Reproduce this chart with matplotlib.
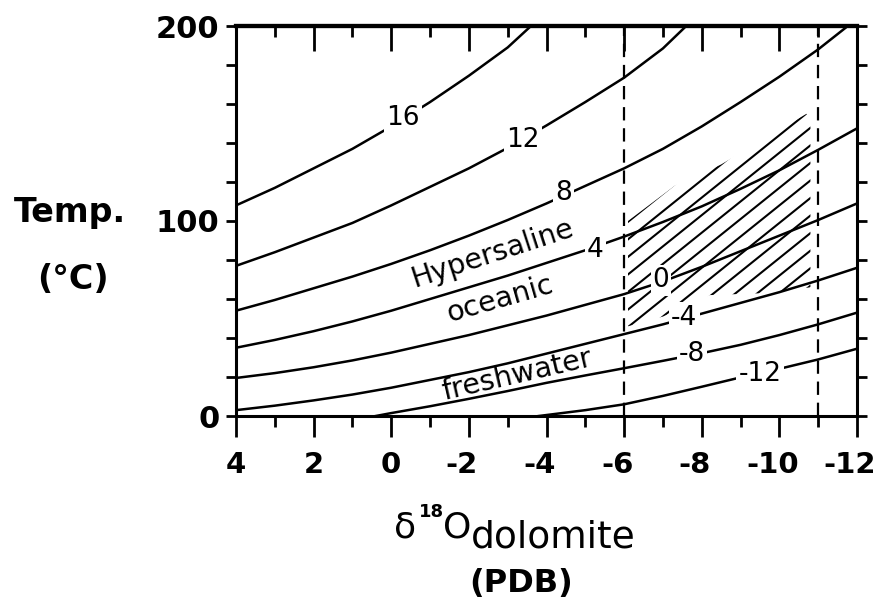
#! /usr/bin/python3
# Temperature vs d18O of dolomite for waters of different d18O (SMOW)
import numpy as np
import matplotlib
matplotlib.use("Agg")
import matplotlib.pyplot as plt
from matplotlib.patches import Polygon
from matplotlib.ticker import FixedLocator, MultipleLocator, NullFormatter
from matplotlib.transforms import ScaledTranslation

# curves: x = d18O dolomite (PDB), t = temperature (C)
c16_x = [4, 3, 2, 1, 0, -1, -2, -3, -3.6]
c16_t = [108, 117, 127, 137, 148.5, 161, 174.5, 189, 200]
c12_x = [4, 3, 2, 1, 0, -1, -2, -3, -4, -5, -6, -7, -7.6]
c12_t = [77, 84, 91.5, 99, 108, 117.5, 127, 137.5, 149, 161, 173.5, 188.5, 200]
c8_x = [4, 3, 2, 1, 0, -1, -2, -3, -4, -5, -6, -7, -8, -9, -10, -11, -11.7]
c8_t = [54, 59.5, 65.5, 71.5, 78, 85, 92.5, 100.5, 109, 118, 127, 137, 148.5,
        161, 174, 188, 199]
c4_x = [4, 3, 2, 1, 0, -1, -2, -3, -4, -5, -6, -7, -8, -9, -10, -11, -12]
c4_t = [35, 39, 43.5, 48.5, 54, 60, 66, 72, 78.5, 85, 92, 99.5, 107.5, 116.5,
        126, 136.5, 147.5]
c0_x = [4, 3, 2, 1, 0, -1, -2, -3, -4, -5, -6, -7, -8, -9, -10, -11, -12]
c0_t = [19.5, 22, 25, 28.5, 32.5, 37, 41.5, 46.5, 51.5, 57, 62.5, 69, 76.5,
        84.5, 92.5, 100.5, 109]
cm4_x = [4, 3, 2, 1, 0, -1, -2, -3, -4, -5, -6, -7, -8, -9, -10, -11, -12]
cm4_t = [3, 5.3, 8, 11, 14.5, 18.5, 22.5, 27, 32, 37, 42, 47, 52.5, 58, 63.5,
         69.5, 76]
cm8_x = [0.4, 0, -1, -2, -3, -4, -5, -6, -7, -8, -9, -10, -11, -12]
cm8_t = [0, 1.5, 5, 8.8, 12.8, 17, 20.8, 24.5, 28.3, 32.2, 36.5, 41.5, 47, 53]
cm12_x = [-3.8, -4, -5, -6, -7, -8, -9, -10, -11, -12]
cm12_t = [0, 0.5, 3, 6, 10.3, 15, 19.8, 24.2, 29, 34.5]

curves = [(c16_x, c16_t), (c12_x, c12_t), (c8_x, c8_t), (c4_x, c4_t),
          (c0_x, c0_t), (cm4_x, cm4_t), (cm8_x, cm8_t), (cm12_x, cm12_t)]

# curve labels (d18O water) and where they sit
curve_labels = ["16", "12", "8", "4", "0", "-4", "-8", "-12"]
label_x = [-0.3, -3.4, -4.45, -5.25, -6.95, -7.55, -7.75, -9.5]
label_t = [153, 141.5, 114.5, 85, 69.5, 50.5, 32, 21.5]

# water type names
water_names = ["Hypersaline", "oceanic", "freshwater"]
water_x = [-2.68, -2.86, -3.29]
water_t = [79.4, 55.9, 17]
water_rot = [18, 16, 13]

# dashed limits of measured dolomite values
dash_x = [-6, -11]

# hatched field outline
hatch_x = [-6.1, -6.1, -7.3, -8.5, -10.7, -10.8, -10.8, -9.6, -8.2, -7.0]
hatch_t = [46, 100, 118, 129, 155, 150, 66, 63, 62, 51]

x_ticks = [4, 2, 0, -2, -4, -6, -8, -10, -12]
x_ticklabels = ["4", "2", "0", "-2", "-4", "-6", "-8", "-10", "-12"]
y_ticks = [0, 100, 200]
y_ticklabels = ["0", "100", "200"]

W, H = 876, 602
fig = plt.figure(figsize=(W / 100, H / 100), dpi=100)
ax = fig.add_axes([236 / W, 1 - 416 / H, (857 - 236) / W, (416 - 26) / H])


def fxy(px, py):
    # pixel position -> figure fraction
    return px / W, 1 - py / H


for xs, ts in curves:
    ax.plot(xs, ts, color="black", lw=1.8, zorder=2)

# hand-drawn style hatching: slanted strokes clipped to the field outline
field = Polygon(list(zip(hatch_x, hatch_t)), closed=True, facecolor="none",
                edgecolor="none")
ax.add_patch(field)
hatch_rise = 16   # deg C per permil along a stroke
hatch_gap = 9     # deg C between strokes
ends = [min(hatch_x), max(hatch_x)]
for b in np.arange(-106, 3, hatch_gap):
    stroke, = ax.plot(ends, [b - hatch_rise * e for e in ends],
                      color="black", lw=1.5, zorder=1)
    stroke.set_clip_path(field)

for xd in dash_x:
    ax.axvline(xd, color="black", lw=1.6, ls=(0, (6, 3.5)), zorder=2)

for s, xl, tl in zip(curve_labels, label_x, label_t):
    ax.text(xl, tl, s, fontsize=19, ha="center", va="center", zorder=3,
            bbox=dict(facecolor="white", edgecolor="none", pad=1.5))

for s, xl, tl, r in zip(water_names, water_x, water_t, water_rot):
    ax.text(xl, tl, s, fontsize=20.5, ha="center", va="baseline", rotation=r,
            rotation_mode="anchor", zorder=3)

ax.set_xlim(4, -12)
ax.set_ylim(0, 200)

ax.xaxis.set_major_locator(FixedLocator(x_ticks))
ax.set_xticklabels(x_ticklabels, fontweight="bold")
ax.xaxis.set_minor_locator(MultipleLocator(1))
ax.tick_params(axis="x", which="major", direction="out", length=15, width=2,
               labelsize=21, pad=10)
ax.tick_params(axis="x", which="minor", direction="out", length=8, width=2)

ax.yaxis.set_major_locator(FixedLocator(y_ticks))
ax.set_yticklabels(y_ticklabels, fontweight="bold")
ax.yaxis.set_minor_locator(MultipleLocator(20))
ax.tick_params(axis="y", which="both", direction="out", length=7, width=2,
               right=True, labelsize=22, pad=5)

# hyphen sits left of the tick, digits centred under it
shift = ScaledTranslation(-7 / 100, 0, fig.dpi_scale_trans)
for lbl in ax.get_xticklabels():
    if lbl.get_text().startswith("-"):
        lbl.set_transform(lbl.get_transform() + shift)

# top ticks point inward
top = ax.secondary_xaxis("top")
top.xaxis.set_major_locator(FixedLocator(x_ticks))
top.xaxis.set_minor_locator(MultipleLocator(1))
top.xaxis.set_major_formatter(NullFormatter())
top.tick_params(which="major", direction="in", length=18, width=2)
top.tick_params(which="minor", direction="in", length=8, width=2)
top.spines["top"].set_linewidth(3)

for sp in ax.spines.values():
    sp.set_linewidth(2.2)
ax.spines["top"].set_linewidth(3)

# axis titles
fig.text(*fxy(70, 222), "Temp.", fontsize=24, fontweight="bold",
         ha="center", va="baseline")
fig.text(*fxy(73, 289), "(\u00b0C)", fontsize=24, fontweight="bold",
         ha="center", va="baseline")

fig.text(*fxy(394, 537), "\u03b4", fontsize=26, ha="left", va="baseline")
fig.text(*fxy(419, 517), "18", fontsize=13, fontweight="bold", ha="left",
         va="baseline")
fig.text(*fxy(443, 538), "O", fontsize=26, ha="left", va="baseline")
fig.text(*fxy(471, 548), "dolomite", fontsize=27, ha="left", va="baseline")
fig.text(*fxy(521, 592), "(PDB)", fontsize=23, fontweight="bold",
         ha="center", va="baseline")

plt.savefig("out.png", dpi=100)
